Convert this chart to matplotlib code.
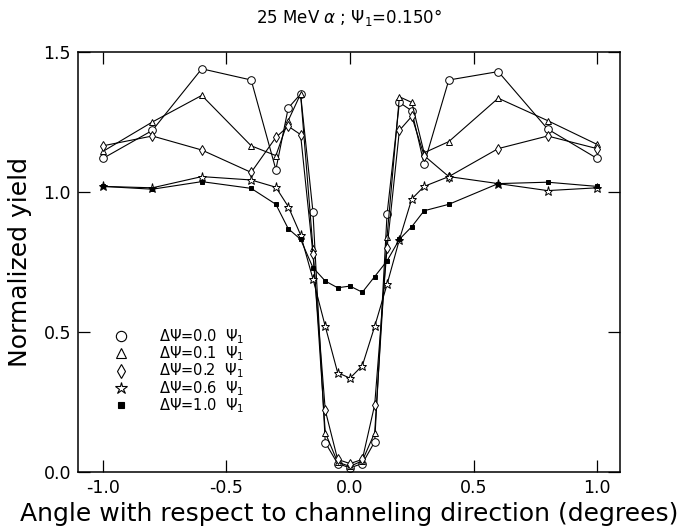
import matplotlib
matplotlib.use("Agg")
import matplotlib.pyplot as plt
from matplotlib.lines import Line2D
from matplotlib.ticker import FormatStrFormatter

plt.rcParams['font.family'] = ['DejaVu Sans']
plt.rcParams['mathtext.fontset'] = 'dejavusans'

# angle (degrees)
angle = [-1.0, -0.8, -0.6, -0.4, -0.3, -0.25, -0.2, -0.15, -0.1, -0.05, 0.0,
         0.05, 0.1, 0.15, 0.2, 0.25, 0.3, 0.4, 0.6, 0.8, 1.0]

# normalized yields for each delta-psi
y_d00 = [1.12, 1.22, 1.44, 1.40, 1.08, 1.30, 1.35, 0.93, 0.105, 0.03, 0.015,
         0.03, 0.108, 0.92, 1.32, 1.29, 1.10, 1.40, 1.43, 1.225, 1.12]
y_d01 = [1.145, 1.25, 1.345, 1.165, 1.13, 1.255, 1.35, 0.80, 0.14, 0.035, 0.02,
         0.04, 0.14, 0.84, 1.34, 1.32, 1.14, 1.18, 1.335, 1.255, 1.17]
y_d02 = [1.165, 1.20, 1.15, 1.07, 1.195, 1.235, 1.205, 0.78, 0.22, 0.045, 0.03,
         0.045, 0.24, 0.80, 1.22, 1.27, 1.13, 1.055, 1.155, 1.20, 1.155]
y_d06 = [1.02, 1.015, 1.055, 1.043, 1.017, 0.948, 0.847, 0.69, 0.52, 0.355, 0.335,
         0.38, 0.52, 0.67, 0.83, 0.975, 1.02, 1.055, 1.03, 1.005, 1.015]
y_d10 = [1.02, 1.01, 1.037, 1.013, 0.956, 0.869, 0.831, 0.73, 0.682, 0.658, 0.664,
         0.642, 0.698, 0.754, 0.831, 0.876, 0.933, 0.956, 1.03, 1.035, 1.02]

labels = ["ΔΨ=0.0  Ψ$_1$", "ΔΨ=0.1  Ψ$_1$", "ΔΨ=0.2  Ψ$_1$",
          "ΔΨ=0.6  Ψ$_1$", "ΔΨ=1.0  Ψ$_1$"]
xticks = [-1.0, -0.5, 0.0, 0.5, 1.0]
yticks = [0.0, 0.5, 1.0, 1.5]

series = [y_d00, y_d01, y_d02, y_d06, y_d10]
styles = [
    dict(marker='o', ms=5.5, mfc='white'),
    dict(marker='^', ms=5.0, mfc='white'),
    dict(marker='d', ms=5.5, mfc='white'),
    dict(marker='*', ms=6.5, mfc='white'),
    dict(marker='s', ms=3.5, mfc='black'),
]

fig = plt.figure(figsize=(6.86, 5.31), dpi=100)
ax = fig.add_axes([78/686, 59/531, 542/686, 420/531])

for ys, st in zip(series, styles):
    ax.plot(angle, ys, color='black', lw=0.8, mec='black', mew=0.7, **st)

ax.set_xlim(-1.101, 1.093)
ax.set_ylim(0.0, 1.5)
ax.set_xticks(xticks)
ax.set_yticks(yticks)
ax.xaxis.set_major_formatter(FormatStrFormatter('%.1f'))
ax.yaxis.set_major_formatter(FormatStrFormatter('%.1f'))
ax.tick_params(direction='in', length=8.5, width=0.9, top=True, right=True,
               labelsize=12.5, pad=5, colors='black')
for sp in ax.spines.values():
    sp.set_linewidth(1.1)

ax.set_xlabel("Angle with respect to channeling direction (degrees)", fontsize=18)
ax.xaxis.set_label_coords(0.5, -0.072)
ax.set_ylabel("Normalized yield", fontsize=18)
ax.yaxis.set_label_coords(-0.085, 0.5)

fig.text(349/686, 1 - 18/531, r"25 MeV $\alpha$ ; $\Psi_1$=0.150°",
         ha='center', va='center', fontsize=12)

handles = []
for st in styles:
    s = dict(st)
    s['ms'] = s['ms'] * 1.35
    handles.append(Line2D([], [], ls='none', color='black', mec='black', mew=0.8, **s))
ax.legend(handles, labels, loc='upper left', bbox_to_anchor=(0.05, 0.362),
          frameon=False, fontsize=10.5, handlelength=1.2, handletextpad=2.0,
          labelspacing=-0.1, borderpad=0)

fig.savefig("out.png", dpi=100)
